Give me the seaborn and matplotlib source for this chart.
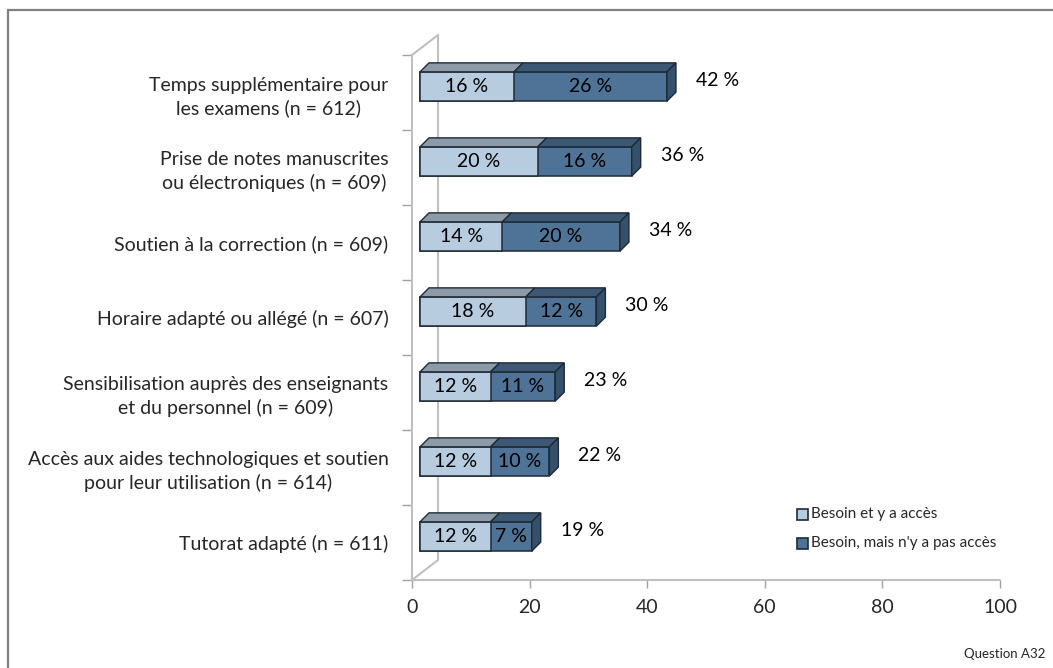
import numpy as np
import pandas as pd
import seaborn as sns
import matplotlib
matplotlib.use("Agg")
import matplotlib.pyplot as plt
from matplotlib.patches import Polygon, Rectangle
from matplotlib.transforms import ScaledTranslation

# --- data ---
categories = [
    "Temps supplémentaire pour\nles examens (n = 612)",
    "Prise de notes manuscrites\nou électroniques (n = 609)",
    "Soutien à la correction (n = 609)",
    "Horaire adapté ou allégé (n = 607)",
    "Sensibilisation auprès des enseignants\net du personnel (n = 609)",
    "Accès aux aides technologiques et soutien\npour leur utilisation (n = 614)",
    "Tutorat adapté (n = 611)",
]
acces = [16, 20, 14, 18, 12, 12, 12]          # Besoin et y a accès
pas_acces = [26, 16, 20, 12, 11, 10, 7]       # Besoin, mais n'y a pas accès
totals = [42, 36, 34, 30, 23, 22, 19]
legend_labels = ["Besoin et y a accès", "Besoin, mais n'y a pas accès"]
x_ticks = [0, 20, 40, 60, 80, 100]

df = pd.DataFrame({"cat": categories, "acces": acces,
                   "pas_acces": pas_acces, "total": totals})

sns.set_theme(style="white")
plt.rcParams["font.family"] = ["Lato", "DejaVu Sans"]
FS = 14

light = "#b8cce0"
dark = "#4f7396"
light_top = "#8d9ba8"
dark_top = "#3c5874"
dark_side = "#34506b"
edge = "#1e2a36"
wall = "#c0c0c0"

W, H = 1053, 668
fig = plt.figure(figsize=(W / 100, H / 100), dpi=100)
ax = fig.add_axes([412 / W, 1 - 580 / H, 588 / W, 525 / H])

# bars: total in dark, then the "accès" part over it
sns.barplot(data=df, x="total", y="cat", orient="h", color=dark, saturation=1,
            width=0.39, edgecolor=edge, linewidth=1.1, ax=ax)
sns.barplot(data=df, x="acces", y="cat", orient="h", color=light, saturation=1,
            width=0.39, edgecolor=edge, linewidth=1.1, ax=ax)

ax.set_xlim(0, 100)
ax.set_ylim(6.5, -0.5)

# bars sit a bit back in the 3D box
shift = ScaledTranslation(8 / 100, 6 / 100, fig.dpi_scale_trans)
bar_tr = ax.transData + shift
for p in ax.patches:
    p.set_transform(bar_tr)

# depth of each bar, in data units
dx = 9 / 5.88
dy = 9 / 75
hw = 0.39 / 2
for i in range(len(categories)):
    top = i - hw
    bot = i + hw
    segs = [(0, acces[i], light_top), (acces[i], totals[i], dark_top)]
    for x0, x1, c in segs:
        ax.add_patch(Polygon([(x0, top), (x1, top), (x1 + dx, top - dy), (x0 + dx, top - dy)],
                             closed=True, facecolor=c, edgecolor=edge, lw=1.0,
                             transform=bar_tr, zorder=3))
    x1 = totals[i]
    ax.add_patch(Polygon([(x1, bot), (x1, top), (x1 + dx, top - dy), (x1 + dx, bot - dy)],
                         closed=True, facecolor=dark_side, edgecolor=edge, lw=1.0,
                         transform=bar_tr, zorder=3))
    # segment labels
    ax.text(acces[i] / 2, i, f"{acces[i]} %", ha="center", va="center",
            fontsize=FS, color="black", transform=bar_tr, zorder=4)
    ax.text(acces[i] + pas_acces[i] / 2, i, f"{pas_acces[i]} %", ha="center", va="center",
            fontsize=FS, color="black", transform=bar_tr, zorder=4)
    ax.text(totals[i] + dx + 3.4, i - 0.08, f"{totals[i]} %", ha="left", va="center",
            fontsize=FS, color="black", transform=bar_tr, zorder=4)

# the 3D wall
for s in ax.spines.values():
    s.set_visible(False)
back = ax.transAxes + ScaledTranslation(26 / 100, 20 / 100, fig.dpi_scale_trans)
ax.plot([0, 0], [0, 1], color=wall, lw=1.5, transform=ax.transAxes, clip_on=False)
ax.plot([0, 1], [0, 0], color=wall, lw=1.5, transform=ax.transAxes, clip_on=False)
ax.plot([0, 0], [0, 1], color=wall, lw=1.5, transform=back, clip_on=False, zorder=0)
ax.plot([0, 26 / 588], [1, 1 + 20 / 525], color=wall, lw=1.5,
        transform=ax.transAxes, clip_on=False)
ax.plot([0, 26 / 588], [0, 20 / 525], color=wall, lw=1.5,
        transform=ax.transAxes, clip_on=False)

ax.set_xticks(x_ticks)
ax.set_xticklabels([str(t) for t in x_ticks], fontsize=FS)
ax.set_yticks(range(len(categories)))
ax.set_yticklabels(categories, fontsize=FS, ha="right", multialignment="center",
                   linespacing=1.35)
ax.set_yticks(np.arange(-0.5, 7, 1), minor=True)
ax.tick_params(axis="y", which="major", length=0, pad=17)
ax.tick_params(axis="y", which="minor", length=7, color="#a0a0a0", width=1, left=True)
ax.tick_params(axis="x", length=6, color="#a0a0a0", width=1, bottom=True, pad=8)
ax.set_xlabel("")
ax.set_ylabel("")

# legend, drawn as figure elements
for j, (lab, c) in enumerate(zip(legend_labels, [light, dark])):
    yc = 1 - (514 + 29 * j) / H
    fig.patches.append(Rectangle((797 / W, yc - 5.5 / H), 11 / W, 11 / H, facecolor=c,
                                 edgecolor=edge, lw=1.2, transform=fig.transFigure))
    fig.text(811 / W, yc, lab, ha="left", va="center", fontsize=11)

fig.text(1045 / W, 1 - 654 / H, "Question A32", ha="right", va="center", fontsize=9.5)

# outer frame
fig.add_artist(plt.Line2D([8 / W, 8 / W], [0, 1 - 10 / H], color="#808080", lw=1.6))
fig.add_artist(plt.Line2D([8 / W, 1], [1 - 10 / H, 1 - 10 / H], color="#808080", lw=1.6))

fig.savefig("out.png", dpi=100, facecolor="white")
